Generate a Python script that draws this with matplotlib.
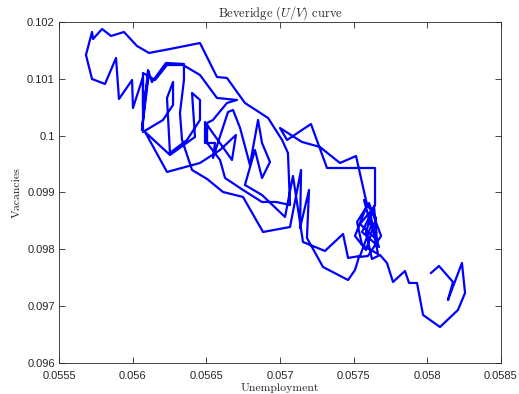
import matplotlib
matplotlib.use("Agg")
import matplotlib.pyplot as plt

# unemployment / vacancy path
unemp = [0.058025, 0.058079, 0.058174, 0.058140, 0.058235, 0.058256, 0.058208, 0.058086,
         0.057971, 0.057930, 0.057876, 0.057848, 0.057767, 0.057726, 0.057679, 0.057624,
         0.057584, 0.057638, 0.057658, 0.057543, 0.057611, 0.057665, 0.057557, 0.057523,
         0.057604, 0.057686, 0.057597, 0.057536, 0.057509, 0.057462, 0.057292, 0.057183,
         0.057197, 0.057136, 0.057143, 0.057068, 0.056885, 0.056749, 0.056613, 0.056505,
         0.056403, 0.056335, 0.056321, 0.056348, 0.056348, 0.056226, 0.056131, 0.056104,
         0.056063, 0.056111, 0.056070, 0.056070, 0.056002, 0.055996, 0.055907, 0.055887,
         0.055812, 0.055724, 0.055683, 0.055724, 0.055731, 0.055792, 0.055853, 0.055941,
         0.056029, 0.056111, 0.056253, 0.056457, 0.056572, 0.056640, 0.056762, 0.056919,
         0.057014, 0.057054, 0.057068, 0.056973, 0.056878, 0.056749, 0.056627, 0.056593,
         0.056505, 0.056505, 0.056545, 0.056640, 0.056708, 0.056572, 0.056457, 0.056342,
         0.056233, 0.056152, 0.056070, 0.056070, 0.056206, 0.056274, 0.056274, 0.056233,
         0.056253, 0.056369, 0.056457, 0.056457, 0.056403, 0.056423, 0.056253, 0.056084,
         0.056233, 0.056457, 0.056593, 0.056701, 0.056674, 0.056491, 0.056491, 0.056559,
         0.056545, 0.056647, 0.056681, 0.056729, 0.056796, 0.056851, 0.056878, 0.056932,
         0.056878, 0.056830, 0.056762, 0.056878, 0.057034, 0.057088, 0.057156, 0.057305,
         0.057428, 0.057462, 0.057543, 0.057618, 0.057570, 0.057652, 0.057584, 0.057509,
         0.057591, 0.057516, 0.057407, 0.057271, 0.057149, 0.057000, 0.057048, 0.057210,
         0.057319, 0.057441, 0.057645, 0.057645, 0.057557, 0.057672, 0.057611, 0.057652]

vacancies = [0.097584, 0.097707, 0.097425, 0.097109, 0.097760, 0.097232, 0.096933, 0.096633,
             0.096845, 0.097408, 0.097408, 0.097619, 0.097425, 0.097760, 0.097900, 0.097830,
             0.098305, 0.098762, 0.098164, 0.098446, 0.098657, 0.097918, 0.098076, 0.098481,
             0.098815, 0.098235, 0.097883, 0.097865, 0.097636, 0.097460, 0.097689, 0.098199,
             0.099044, 0.098375, 0.099396, 0.098393, 0.098305, 0.098921, 0.099009, 0.099238,
             0.099396, 0.099924, 0.100399, 0.100979, 0.101261, 0.101279, 0.100944, 0.101155,
             0.100100, 0.101120, 0.100487, 0.101032, 0.100487, 0.100979, 0.100645, 0.101367,
             0.100909, 0.100997, 0.101419, 0.101824, 0.101701, 0.101877, 0.101754, 0.101824,
             0.101578, 0.101455, 0.101525, 0.101630, 0.101032, 0.101015, 0.100575, 0.100311,
             0.099924, 0.099695, 0.098780, 0.098833, 0.098833, 0.099044, 0.099255, 0.099572,
             0.099871, 0.100223, 0.100276, 0.100575, 0.100628, 0.100663, 0.101067, 0.101243,
             0.101243, 0.100979, 0.101103, 0.100065, 0.100276, 0.100540, 0.100944, 0.100663,
             0.099695, 0.099924, 0.100276, 0.100628, 0.100751, 0.099977, 0.099660, 0.100065,
             0.099361, 0.099519, 0.099748, 0.100012, 0.099572, 0.100240, 0.099871, 0.099871,
             0.099607, 0.100416, 0.100452, 0.100135, 0.099484, 0.100276, 0.099871, 0.099537,
             0.099255, 0.099748, 0.099132, 0.098956, 0.098569, 0.099290, 0.098129, 0.097971,
             0.098270, 0.097848, 0.097883, 0.098411, 0.098868, 0.098551, 0.097988, 0.098235,
             0.098780, 0.099642, 0.099519, 0.099801, 0.099889, 0.100135, 0.099924, 0.100205,
             0.099431, 0.099431, 0.099431, 0.098780, 0.098305, 0.098041, 0.098516, 0.098305]

xticks = [0.0555, 0.056, 0.0565, 0.057, 0.0575, 0.058, 0.0585]
xticklabels = ['0.0555', '0.056', '0.0565', '0.057', '0.0575', '0.058', '0.0585']
yticks = [0.096, 0.097, 0.098, 0.099, 0.1, 0.101, 0.102]
yticklabels = ['0.096', '0.097', '0.098', '0.099', '0.1', '0.101', '0.102']

plt.rcParams['mathtext.fontset'] = 'cm'
plt.rcParams['font.family'] = ['Liberation Sans', 'DejaVu Sans']

fig = plt.figure(figsize=(5.19, 3.94), dpi=100)
ax = fig.add_axes([0.1137, 0.0787, 0.8516, 0.8655])
ax.plot(unemp, vacancies, color='#0000ff', linewidth=1.6)

ax.set_xlim(0.0555, 0.0585)
ax.set_ylim(0.096, 0.102)
ax.set_xticks(xticks)
ax.set_xticklabels(xticklabels)
ax.set_yticks(yticks)
ax.set_yticklabels(yticklabels)
ax.tick_params(direction='in', top=True, right=True, length=4, width=0.6,
               labelsize=8, colors='#262626')
ax.tick_params(axis='x', pad=6)
ax.tick_params(axis='y', pad=3)
for s in ax.spines.values():
    s.set_color('#262626')
    s.set_linewidth(0.6)

serif = dict(family='cmr10', color='#262626')
ax.set_title(r'Beveridge $(U/V)$ curve', pad=4, fontsize=9, **serif)
ax.set_xlabel('Unemployment', labelpad=1, fontsize=8.5, **serif)
ax.set_ylabel('Vacancies', labelpad=4, fontsize=8.5, **serif)

fig.savefig('out.png', dpi=100)
